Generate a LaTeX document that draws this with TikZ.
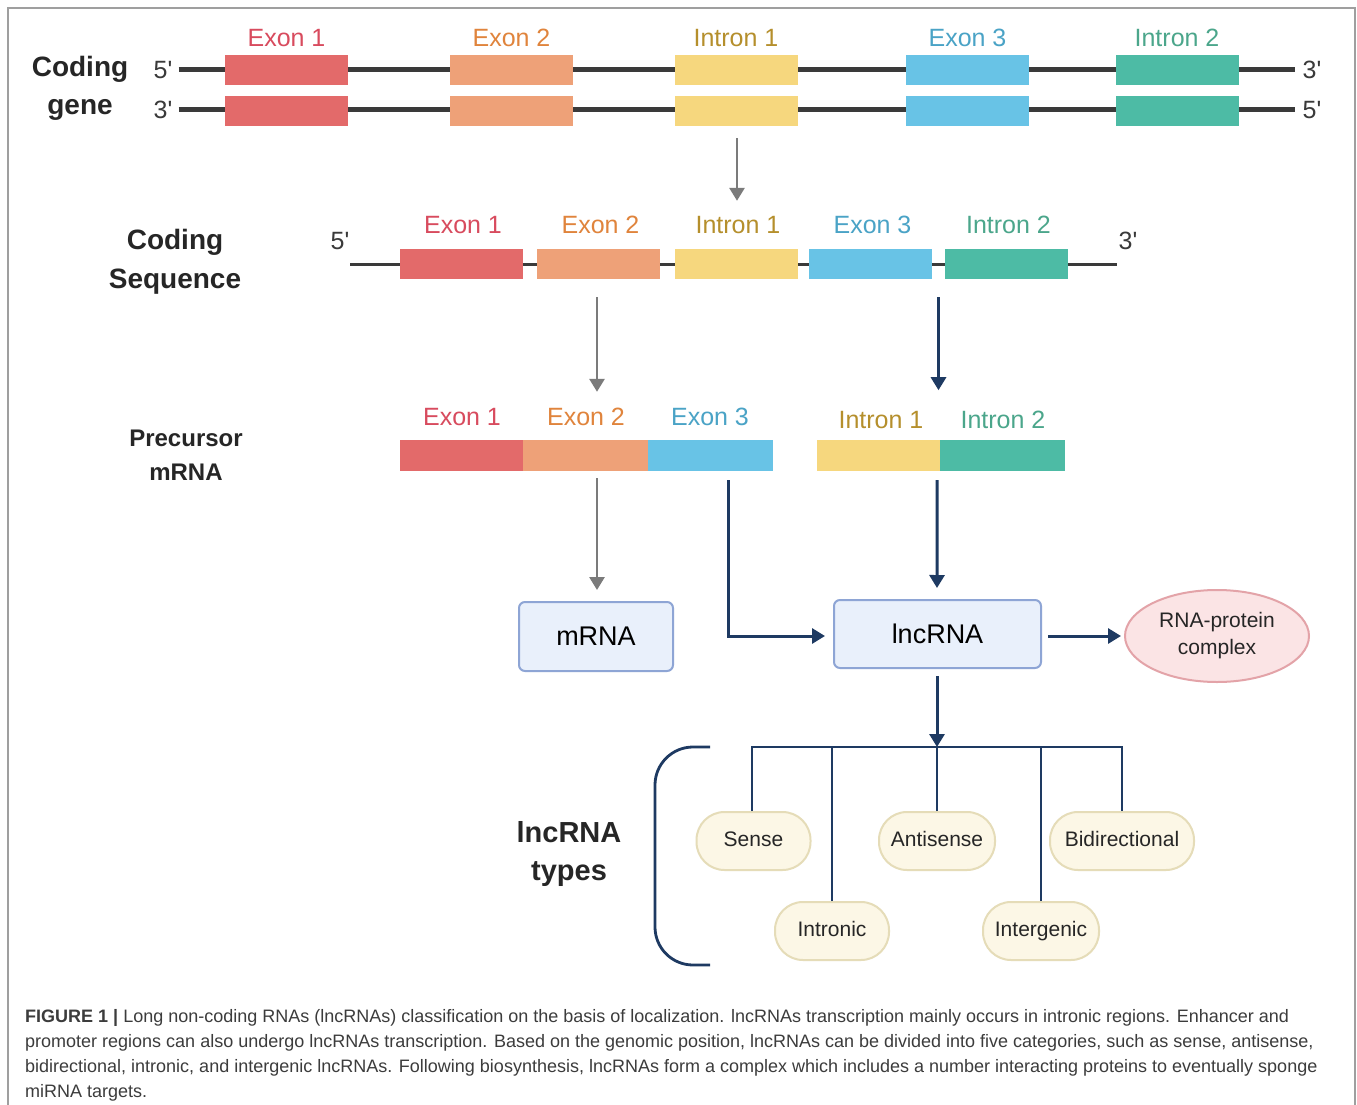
\documentclass[tikz,border=0pt]{standalone}
\usepackage{fontspec}
\setmainfont{Liberation Sans}
\newfontfamily\capfont{Liberation Sans}
\usetikzlibrary{arrows.meta,shapes.geometric,calc}
\definecolor{cEa}{HTML}{E36A6A}
\definecolor{cEb}{HTML}{EEA178}
\definecolor{cIa}{HTML}{F6D77E}
\definecolor{cEc}{HTML}{68C3E6}
\definecolor{cIb}{HTML}{4DBBA5}
\definecolor{tEa}{HTML}{D84B5E}
\definecolor{tEb}{HTML}{E0843C}
\definecolor{tIa}{HTML}{B58F2C}
\definecolor{tEc}{HTML}{4AA3C6}
\definecolor{tIb}{HTML}{4BA68B}
\definecolor{navy}{HTML}{1E3A62}
\definecolor{garr}{HTML}{7B7B7B}
\definecolor{dna}{HTML}{3A3A3A}
\definecolor{boxfill}{HTML}{E9F0FB}
\definecolor{boxdraw}{HTML}{8EA5D5}
\definecolor{pillfill}{HTML}{FCF7E6}
\definecolor{pilldraw}{HTML}{E5DCB8}
\definecolor{pinkfill}{HTML}{FBE4E5}
\definecolor{pinkdraw}{HTML}{E3A3A8}
\definecolor{captxt}{HTML}{3C3C3C}
\tikzset{
  seg/.style={draw=none, minimum width=123pt, minimum height=30pt, inner sep=0pt},
  seglab/.style={font=\fontsize{25}{30}\selectfont, inner sep=0pt},
  endlab/.style={font=\fontsize{25}{30}\selectfont, text=dna, inner sep=0pt},
  headlab/.style={font=\bfseries\fontsize{28}{36}\selectfont, text=black!85, align=center, inner sep=0pt},
  garrow/.style={draw=garr, line width=2.8pt, -{Triangle[width=15pt,length=13pt]}},
  narrow/.style={draw=navy, line width=3pt, -{Triangle[width=15pt,length=13pt]}},
  navline/.style={draw=navy, line width=2.8pt},
  bluebox/.style={draw=boxdraw, fill=boxfill, line width=2pt, rounded corners=6pt, font=\fontsize{27}{32}\selectfont},
  pill/.style={draw=pilldraw, fill=pillfill, line width=2pt, rounded corners=28pt, minimum height=58pt, inner sep=0pt, text height=15pt, text depth=4pt, font=\fontsize{21}{26}\selectfont, text=black!85},
  capline/.style={anchor=base west, inner sep=0pt, font=\capfont\fontsize{18}{22}\selectfont, text=captxt}
}
\begin{document}
\begin{tikzpicture}[x=1pt,y=-1pt]
\useasboundingbox (0,0) rectangle (1357,1105);
\fill[white] (0,0) rectangle (1357,1105);
\draw[gray!75, line width=1.3pt] (8,1110) -- (8,8) -- (1355,8) -- (1355,1110);

% ---------- Coding gene ----------
\node[headlab] (cg) at (80,88) {Coding\\[2pt]gene};
\node[endlab] (g5a) at (163,70) {5\textquotesingle};
\node[endlab] (g3a) at (163,110) {3\textquotesingle};
\node[endlab] (g3b) at (1312,70) {3\textquotesingle};
\node[endlab] (g5b) at (1312,110) {5\textquotesingle};
\draw[dna, line width=5pt] (g5a.east) ++(6,0) coordinate (ga0) -- (1295,70) coordinate (ga1);
\draw[dna, line width=5pt] (g3a.east) ++(6,0) coordinate (gb0) -- (1295,110) coordinate (gb1);
\foreach \nm/\xx/\cc/\tc/\lab in {Ea/286.5/cEa/tEa/Exon 1, Eb/511.5/cEb/tEb/Exon 2, Ia/736/cIa/tIa/Intron 1, Ec/967.5/cEc/tEc/Exon 3, Ib/1177/cIb/tIb/Intron 2}{
  \node[seg, fill=\cc] (g\nm a) at (\xx,70) {};
  \node[seg, fill=\cc] (g\nm b) at (\xx,111) {};
  \node[seglab, text=\tc] (g\nm l) at (\xx,38) {\lab};
}

% ---------- Coding sequence ----------
\node[headlab] (cs) at (175,262) {Coding\\[3pt]Sequence};
\node[endlab] (s5) at (340,241) {5\textquotesingle};
\node[endlab] (s3) at (1128,241) {3\textquotesingle};
\draw[dna, line width=3pt] (350,264) coordinate (sa) -- (1117,264) coordinate (sb);
\foreach \nm/\xx/\cc/\tc/\lab in {Ea/461/cEa/tEa/Exon 1, Eb/598.5/cEb/tEb/Exon 2, Ia/736/cIa/tIa/Intron 1, Ec/870.5/cEc/tEc/Exon 3, Ib/1006.5/cIb/tIb/Intron 2}{
  \node[seg, fill=\cc] (s\nm) at (\xx,264) {};
  \node[seglab, text=\tc] (s\nm l) at (\xx+2,225) {\lab};
}
\draw[garrow] ($(gIab.south)+(1,12)$) -- ($(sIa.north)+(1,-48)$);

% ---------- Precursor mRNA ----------
\node[headlab, font=\bfseries\fontsize{24}{30}\selectfont] (pm) at (186,455) {Precursor\\[4pt]mRNA};
\node[seg, fill=cEa, minimum width=123.5pt, minimum height=31pt] (pEa) at (461.5,455.5) {};
\node[seg, fill=cEb, minimum width=125pt, minimum height=31pt] (pEb) at (585.5,455.5) {};
\node[seg, fill=cEc, minimum width=125pt, minimum height=31pt] (pEc) at (710.5,455.5) {};
\node[seg, fill=cIa, minimum width=123pt, minimum height=31pt] (pIa) at (878.5,455.5) {};
\node[seg, fill=cIb, minimum width=125pt, minimum height=31pt] (pIb) at (1002.5,455.5) {};
\node[seglab, text=tEa] (pEal) at (462,417) {Exon 1};
\node[seglab, text=tEb] (pEbl) at (586,417) {Exon 2};
\node[seglab, text=tEc] (pEcl) at (710,417) {Exon 3};
\node[seglab, text=tIa] (pIal) at (881,420) {Intron 1};
\node[seglab, text=tIb] (pIbl) at (1003,420) {Intron 2};

\draw[garrow] ($(sEb.south)+(-1.5,18)$) -- ($(pEb.north)+(11.5,-48)$);
\draw[narrow] ($(sEc.south east)!0.5!(sIb.south west)+(0,18)$) -- ++(0,93);

% ---------- mRNA / lncRNA ----------
\node[bluebox, minimum width=154pt, minimum height=69pt] (mrna) at (596,636.5) {mRNA};
\node[bluebox, minimum width=207pt, minimum height=68pt] (lnc) at (937.5,634) {lncRNA};
\node[ellipse, draw=pinkdraw, fill=pinkfill, line width=2pt, minimum width=184pt, minimum height=92pt, inner sep=0pt, align=center, font=\fontsize{21}{27}\selectfont, text=black!85] (rpc) at (1217,636) {RNA-protein\\complex};

\draw[garrow] ($(pEb.south)+(11.5,7)$) -- ($(mrna.north)+(1,-11)$);
\draw[narrow] ($(pIa.south east)+(-3,9)$) -- ($(lnc.north)+(-0.5,-11)$);
\draw[narrow] ($(pEc.south)+(17.5,9)$) |- ($(lnc.west)+(-8,2)$);
\draw[narrow] ($(lnc.east)+(6,2)$) -- ($(rpc.west)+(-3,0)$);

% ---------- lncRNA types ----------
\node[headlab, font=\bfseries\fontsize{29}{38}\selectfont] (types) at (569,854) {lncRNA\\types};
\node[pill, minimum width=114pt] (sense) at (753.5,841) {Sense};
\node[pill, minimum width=116pt] (anti) at (937,841) {Antisense};
\node[pill, minimum width=144pt] (bidir) at (1122,841) {Bidirectional};
\node[pill, minimum width=114pt] (intr) at (832,931) {Intronic};
\node[pill, minimum width=116pt] (inter) at (1041,931) {Intergenic};

\coordinate (hub) at (937,747);
\draw[narrow] ($(lnc.south)+(-0.5,7)$) -- (hub);
\draw[navline] (sense.north -| 752,0) -- (752,747) -- (1122,747) -- (bidir.north -| 1122,0);
\draw[navline] (intr.north) -- (intr.north |- hub);
\draw[navline] (anti.north) -- (hub);
\draw[navline] (inter.north) -- (inter.north |- hub);
\draw[navline, rounded corners=38pt] (710,747) -- (655,747) -- (655,965) -- (710,965);

% ---------- caption ----------
\node[capline] (c1) at (25,1022) {\textbf{FIGURE 1 |} Long non-coding RNAs (lncRNAs) classification on the basis of localization. lncRNAs transcription mainly occurs in intronic regions. Enhancer and};
\node[capline] (c2) at (25,1047) {promoter regions can also undergo lncRNAs transcription. Based on the genomic position, lncRNAs can be divided into five categories, such as sense, antisense,};
\node[capline] (c3) at (25,1072) {bidirectional, intronic, and intergenic lncRNAs. Following biosynthesis, lncRNAs form a complex which includes a number interacting proteins to eventually sponge};
\node[capline] (c4) at (25,1097) {miRNA targets.};
\end{tikzpicture}
\end{document}
